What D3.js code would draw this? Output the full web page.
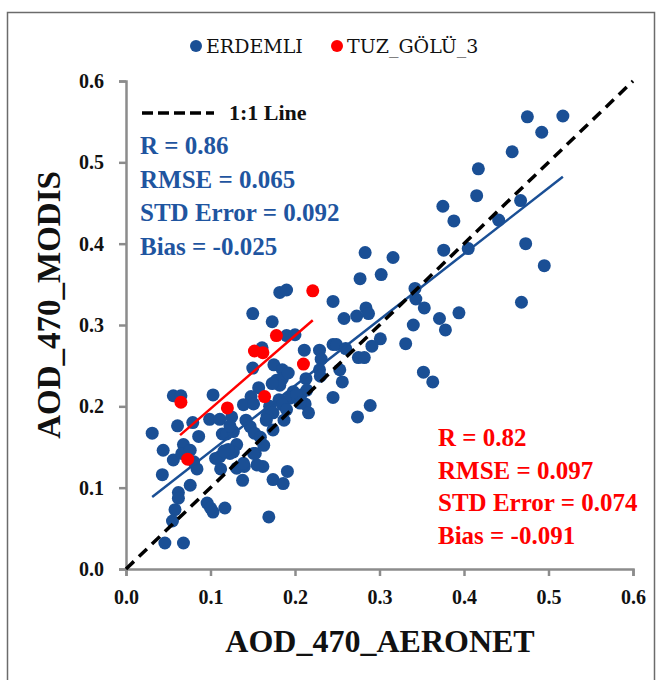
<!DOCTYPE html>
<html>
<head>
<meta charset="utf-8">
<script src="https://cdn.jsdelivr.net/npm/d3@7"></script>
<style>
  body { margin: 0; background: #fff; }
  text { font-family: "Liberation Serif", "Times New Roman", serif; font-weight: bold; }
</style>
</head>
<body>
<svg id="chart" width="660" height="680"></svg>
<script>
// AERONET (x) vs MODIS (y)
var erdemli = [
  [0.475,0.556],[0.517,0.557],[0.492,0.537],[0.457,0.513],[0.417,0.492],[0.415,0.459],
  [0.375,0.446],[0.388,0.428],[0.441,0.429],[0.467,0.453],[0.473,0.400],[0.376,0.392],
  [0.405,0.394],[0.283,0.389],[0.316,0.383],[0.495,0.373],[0.468,0.328],[0.277,0.357],
  [0.302,0.362],[0.342,0.345],[0.343,0.332],[0.353,0.321],[0.340,0.300],[0.371,0.308],
  [0.378,0.294],[0.394,0.315],[0.331,0.277],[0.301,0.283],[0.291,0.274],[0.275,0.260],
  [0.282,0.260],[0.352,0.242],[0.363,0.230],[0.289,0.201],[0.274,0.187],[0.245,0.211],
  [0.256,0.230],[0.253,0.245],[0.245,0.276],[0.249,0.276],[0.260,0.271],[0.245,0.329],
  [0.258,0.308],[0.273,0.311],[0.284,0.321],[0.287,0.314],
  [0.182,0.340],[0.190,0.343],[0.150,0.314],[0.173,0.304],[0.190,0.287],[0.200,0.288],
  [0.211,0.269],[0.229,0.269],[0.231,0.258],[0.150,0.247],[0.175,0.251],[0.185,0.245],
  [0.178,0.232],[0.185,0.234],[0.182,0.226],[0.213,0.234],[0.229,0.245],[0.157,0.223],
  [0.173,0.228],[0.198,0.218],[0.207,0.214],[0.194,0.210],[0.148,0.212],[0.139,0.202],
  [0.151,0.203],[0.170,0.200],[0.181,0.208],[0.174,0.192],[0.167,0.188],[0.185,0.202],
  [0.190,0.196],[0.212,0.203],[0.216,0.192],[0.214,0.220],[0.056,0.213],[0.065,0.213],
  [0.103,0.214],[0.061,0.176],[0.079,0.180],[0.086,0.163],[0.031,0.167],[0.099,0.184],
  [0.111,0.184],[0.125,0.187],[0.114,0.166],[0.119,0.166],[0.127,0.169],[0.142,0.183],
  [0.147,0.175],[0.152,0.167],[0.174,0.171],
  [0.044,0.146],[0.056,0.134],[0.068,0.153],[0.066,0.142],[0.076,0.146],[0.080,0.132],
  [0.084,0.123],[0.043,0.116],[0.076,0.103],[0.062,0.094],[0.062,0.087],[0.058,0.073],
  [0.055,0.059],[0.046,0.032],[0.068,0.032],[0.123,0.176],[0.131,0.153],[0.127,0.144],
  [0.123,0.142],[0.111,0.138],[0.106,0.136],[0.112,0.123],[0.131,0.124],[0.140,0.126],
  [0.138,0.109],[0.153,0.142],[0.159,0.162],[0.163,0.152],[0.162,0.126],[0.174,0.110],
  [0.186,0.105],[0.191,0.120],[0.096,0.081],[0.103,0.070],[0.100,0.075],[0.117,0.075],
  [0.169,0.064],[0.166,0.183],[0.187,0.183],
  [0.161,0.272],[0.192,0.241],[0.230,0.237],[0.202,0.214],[0.206,0.204],[0.155,0.128],
  [0.139,0.130],[0.151,0.142],[0.121,0.147],[0.116,0.145]
];
var tuzGolu = [
  [0.221,0.342],[0.178,0.287],[0.152,0.268],[0.162,0.266],[0.210,0.252],
  [0.164,0.212],[0.120,0.198],[0.065,0.205],[0.073,0.135]
];

// linear fits: [slope, intercept, xmin, xmax]
var fitErdemli = [0.81, 0.0635, 0.031, 0.517];
var fitTuz = [0.90, 0.107, 0.064, 0.221];

var ticks = [0, 0.1, 0.2, 0.3, 0.4, 0.5, 0.6];
var statsErdemli = ['R = 0.86', 'RMSE = 0.065', 'STD Error = 0.092', 'Bias = -0.025'];
var statsTuz = ['R = 0.82', 'RMSE = 0.097', 'STD Error = 0.074', 'Bias = -0.091'];

var blue = '#1a4f95', red = '#ff0000', axisGray = '#8c8c8c';
var serif = '"Liberation Serif", "DejaVu Serif", serif';

var svg = d3.select('#chart');

// outer frame
svg.append('rect')
  .attr('x', 7.5).attr('y', 12.5)
  .attr('width', 647).attr('height', 680)
  .attr('fill', 'none').attr('stroke', '#6b6b6b').attr('stroke-width', 1.5);

var x = d3.scaleLinear().domain([0, 0.6]).range([126, 633]);
var y = d3.scaleLinear().domain([0, 0.6]).range([569, 81]);

// axes
var xAxis = svg.append('g')
  .attr('transform', 'translate(0,569)')
  .call(d3.axisBottom(x).tickValues(ticks).tickFormat(d3.format('.1f')).tickSize(7).tickPadding(14));
var yAxis = svg.append('g')
  .attr('transform', 'translate(126,0)')
  .call(d3.axisLeft(y).tickValues(ticks).tickFormat(d3.format('.1f')).tickSize(7).tickPadding(15));

[xAxis, yAxis].forEach(function (g) {
  g.attr('font-family', serif).attr('font-size', 20).attr('font-weight', 'bold');
  g.select('.domain').attr('stroke', axisGray).attr('stroke-width', 2.5);
  g.selectAll('.tick line').attr('stroke', axisGray).attr('stroke-width', 2.5);
  g.selectAll('.tick text').attr('fill', '#111');
});

// points
svg.append('g').selectAll('circle.erd')
  .data(erdemli).enter().append('circle')
  .attr('class', 'erd')
  .attr('cx', function (d) { return x(d[0]); })
  .attr('cy', function (d) { return y(d[1]); })
  .attr('r', 6.5)
  .attr('fill', blue);

svg.append('g').selectAll('circle.tuz')
  .data(tuzGolu).enter().append('circle')
  .attr('class', 'tuz')
  .attr('cx', function (d) { return x(d[0]); })
  .attr('cy', function (d) { return y(d[1]); })
  .attr('r', 6.5)
  .attr('fill', red);

// fit lines
function fitLine(f, color) {
  var pts = [f[2], f[3]].map(function (v) { return [v, f[0] * v + f[1]]; });
  svg.append('path')
    .datum(pts)
    .attr('d', d3.line().x(function (d) { return x(d[0]); }).y(function (d) { return y(d[1]); }))
    .attr('stroke', color).attr('stroke-width', 2.5).attr('fill', 'none');
}
fitLine(fitErdemli, blue);
fitLine(fitTuz, red);

// 1:1 line
svg.append('path')
  .datum([[0, 0], [0.6, 0.6]])
  .attr('d', d3.line().x(function (d) { return x(d[0]); }).y(function (d) { return y(d[1]); }))
  .attr('stroke', '#000').attr('stroke-width', 3.5)
  .attr('stroke-dasharray', '11,7').attr('fill', 'none');

// 1:1 legend
svg.append('line')
  .attr('x1', 142).attr('x2', 214).attr('y1', 113).attr('y2', 113)
  .attr('stroke', '#000').attr('stroke-width', 3.5).attr('stroke-dasharray', '11,5');
svg.append('text').attr('x', 229).attr('y', 120)
  .style('font-size', '22px').attr('fill', '#111').text('1:1 Line');

// stats
svg.append('g').selectAll('text')
  .data(statsErdemli).enter().append('text')
  .attr('x', 140)
  .attr('y', function (d, i) { return 154 + i * 33.5; })
  .attr('fill', '#1f55a0')
  .style('font-size', '25px')
  .text(function (d) { return d; });

svg.append('g').selectAll('text')
  .data(statsTuz).enter().append('text')
  .attr('x', 438)
  .attr('y', function (d, i) { return 446 + i * 32.7; })
  .attr('fill', red)
  .style('font-size', '25px')
  .text(function (d) { return d; });

// series legend
var legend = [['ERDEMLI', blue, 196], ['TUZ_GÖLÜ_3', red, 337]];
legend.forEach(function (l) {
  svg.append('circle').attr('cx', l[2]).attr('cy', 46).attr('r', 6).attr('fill', l[1]);
  svg.append('text').attr('x', l[2] + 10).attr('y', 53)
    .style('font-family', '"DejaVu Serif", serif').style('font-size', '19px').style('font-weight', 'normal')
    .attr('fill', '#111').text(l[0]);
});

// axis titles
svg.append('text')
  .attr('x', 380).attr('y', 652)
  .attr('text-anchor', 'middle')
  .style('font-size', '32px').attr('fill', '#111')
  .text('AOD_470_AERONET');
svg.append('text')
  .attr('transform', 'translate(60,305) rotate(-90)')
  .attr('text-anchor', 'middle')
  .style('font-size', '33px').attr('fill', '#111')
  .text('AOD_470_MODIS');
</script>
</body>
</html>
